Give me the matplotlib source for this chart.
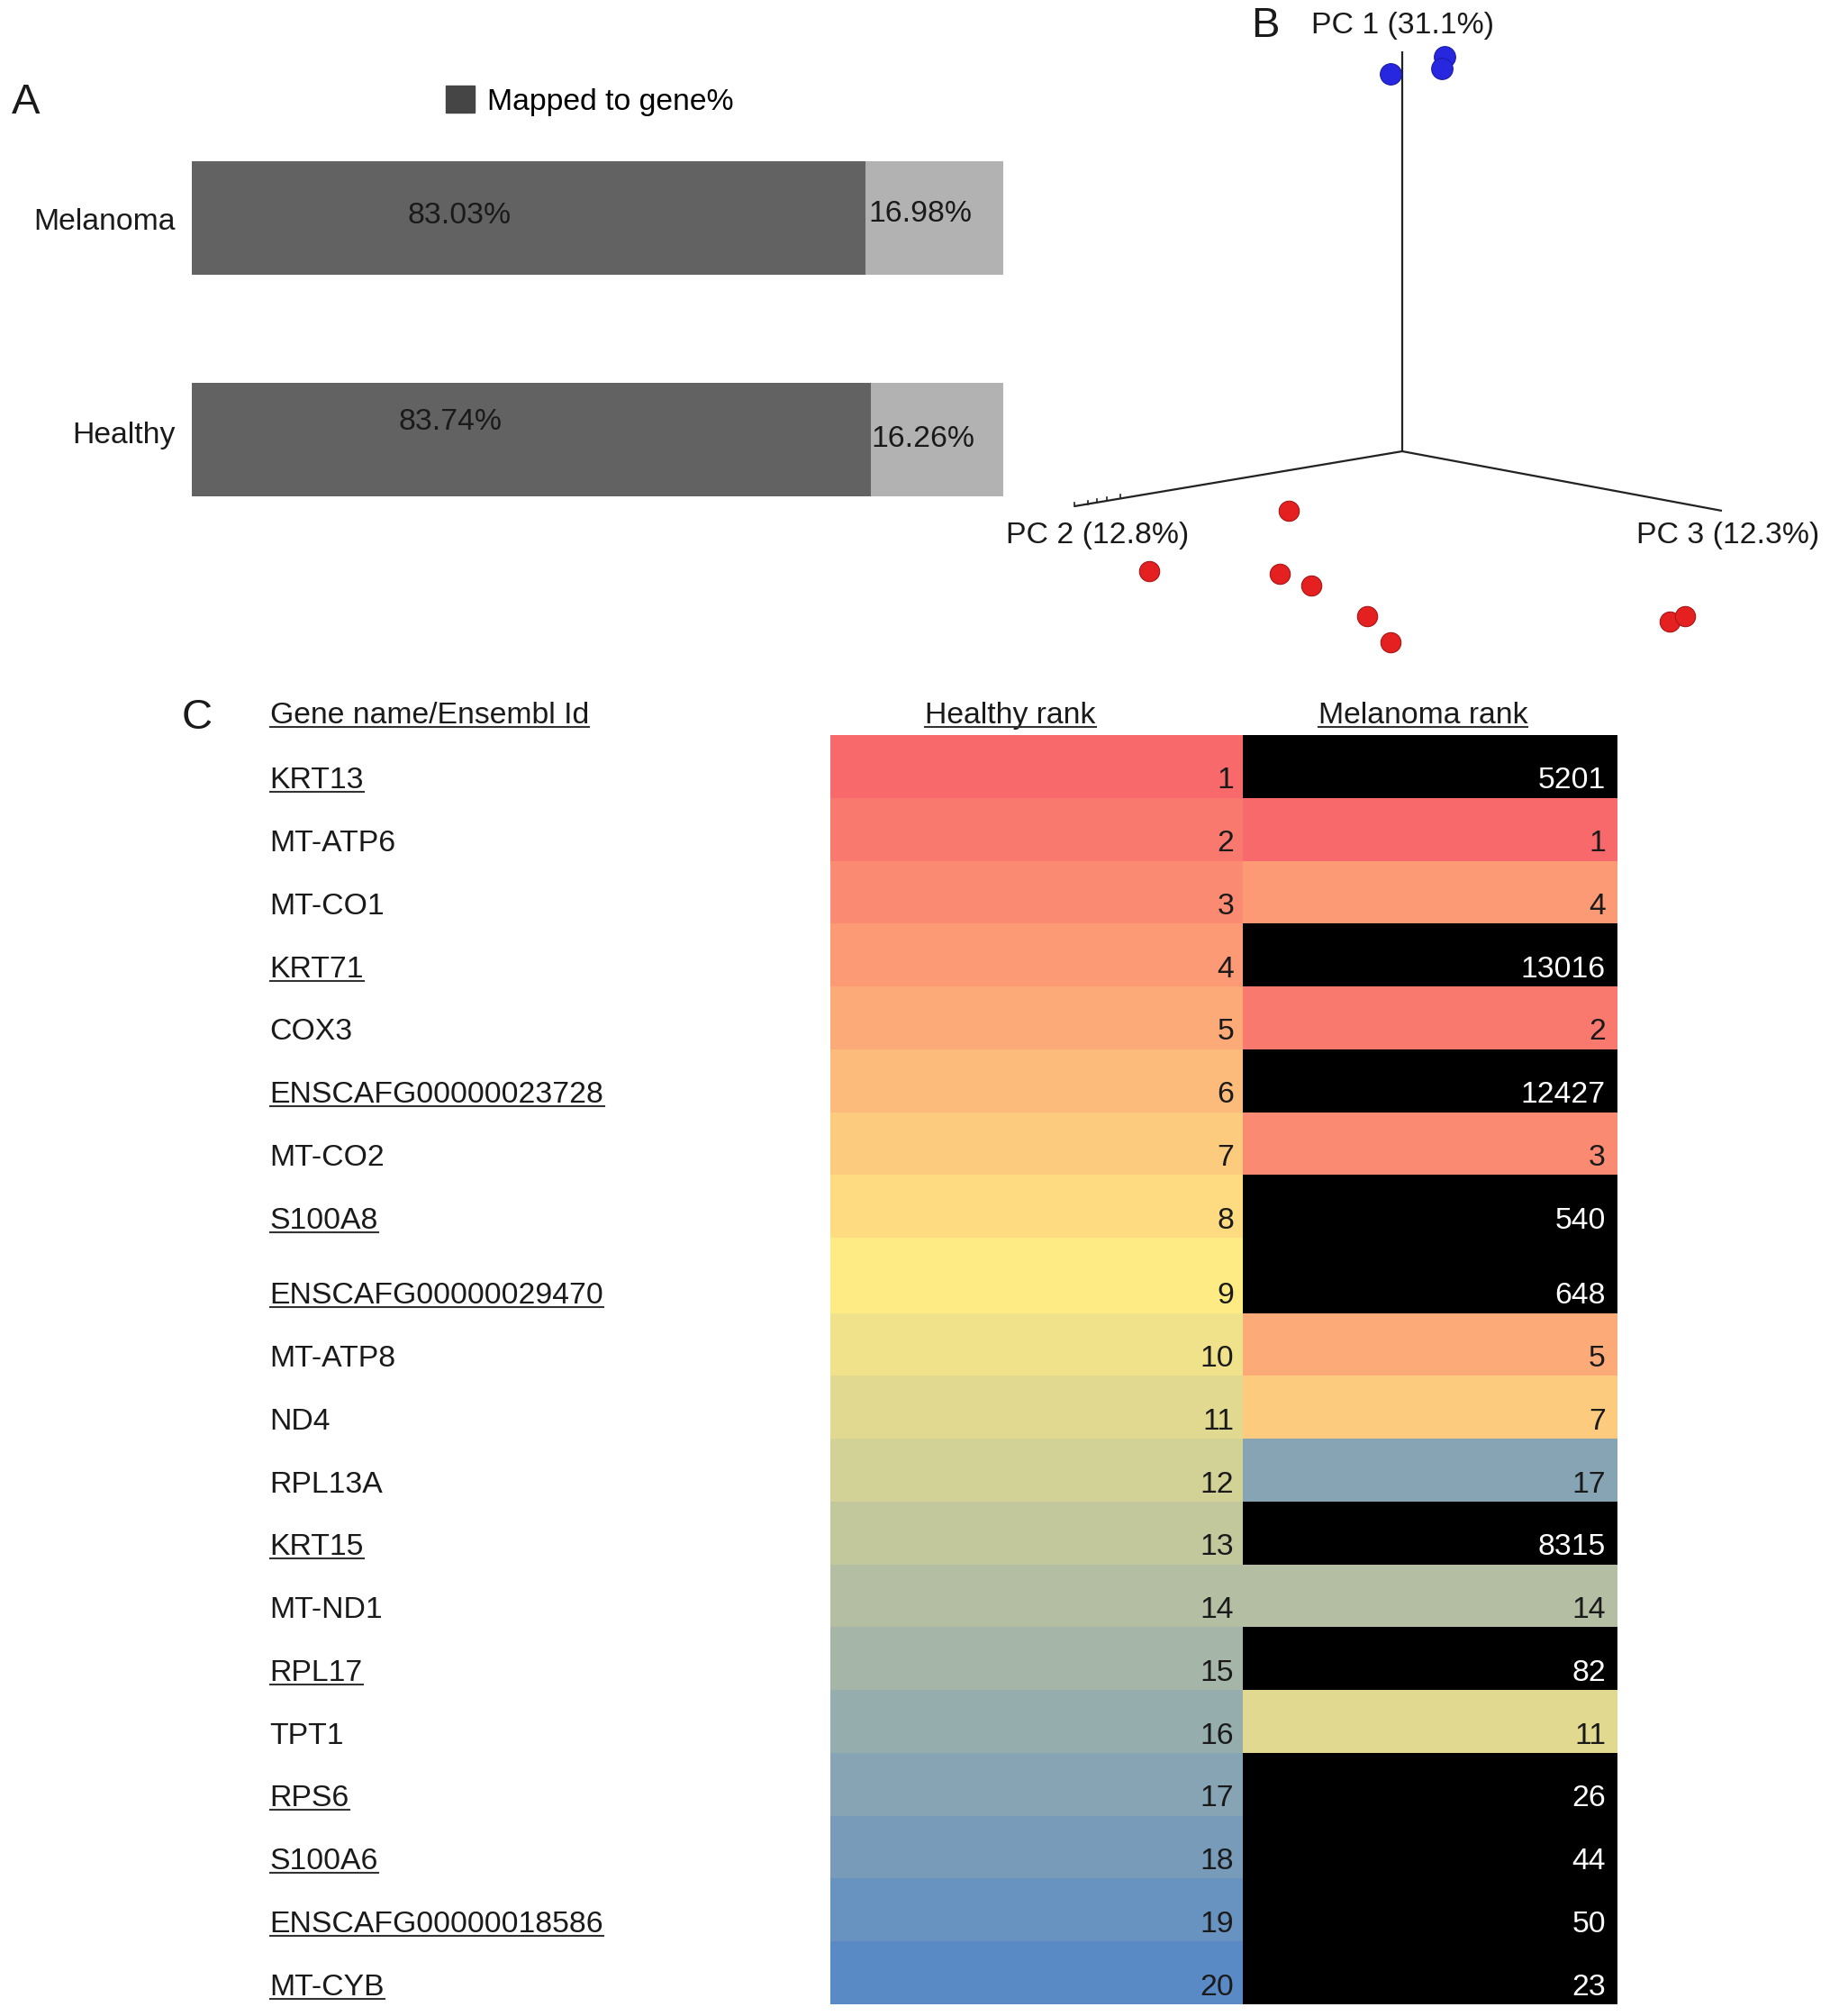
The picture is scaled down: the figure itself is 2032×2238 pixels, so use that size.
import matplotlib
matplotlib.use('Agg')
import matplotlib.pyplot as plt
import numpy as np
from matplotlib.colors import LinearSegmentedColormap, TwoSlopeNorm
from matplotlib.lines import Line2D
from matplotlib.patches import Patch
from matplotlib.transforms import IdentityTransform

plt.rcParams['font.family'] = ['Liberation Sans', 'DejaVu Sans']

# Panel A: mapping rates
samples = ['Melanoma', 'Healthy']
mapped_pct = [83.03, 83.74]
unmapped_pct = [16.98, 16.26]

axis_names = ['PC 1 (31.1%)', 'PC 2 (12.8%)', 'PC 3 (12.3%)']
axis_ends_x = [0.0, -3.64, 3.55]
axis_ends_y = [4.44, -0.61, -0.66]
healthy_x = [-0.13, 0.47, 0.44]
healthy_y = [4.19, 4.38, 4.25]
melanoma_x = [-1.26, -2.81, -1.36, -1.01, -0.39, -0.13, 2.97, 3.14]
melanoma_y = [-0.66, -1.33, -1.36, -1.49, -1.83, -2.12, -1.89, -1.83]

# Panel C: top 20 genes in healthy skin
genes = ['KRT13', 'MT-ATP6', 'MT-CO1', 'KRT71', 'COX3',
         'ENSCAFG00000023728', 'MT-CO2', 'S100A8', 'ENSCAFG00000029470',
         'MT-ATP8', 'ND4', 'RPL13A', 'KRT15', 'MT-ND1', 'RPL17', 'TPT1',
         'RPS6', 'S100A6', 'ENSCAFG00000018586', 'MT-CYB']
healthy_rank = list(range(1, 21))
melanoma_rank = [5201, 1, 4, 13016, 2, 12427, 3, 540, 648, 5, 7, 17,
                 8315, 14, 82, 11, 26, 44, 50, 23]
col_headers = ['Gene name/Ensembl Id', 'Healthy rank', 'Melanoma rank']

W, H = 2032, 2238
FS = 24.3
TXT = '#1a1a1a'


def fig_box(x0, y0, x1, y1):
    """pixel box (top-left origin) -> figure fraction rect"""
    return [x0 / W, 1 - y1 / H, (x1 - x0) / W, (y1 - y0) / H]


def plot_mapping(fig):
    ax = fig.add_axes(fig_box(213, 150, 1114, 580))
    ypos = np.arange(len(samples))
    ax.barh(ypos, mapped_pct, height=0.512, color='#626262')
    ax.barh(ypos, unmapped_pct, left=mapped_pct, height=0.512,
            color='#b2b2b2')
    # source labels drift a little off the bar centres
    label_shift = [0.02, -0.02]
    for i in range(len(samples)):
        ax.text(-2.0, ypos[i] + label_shift[i], samples[i], ha='right',
                va='center', fontsize=FS, color=TXT)
        ax.text(33.0 - 1.2 * i, ypos[i] - 0.01 - 0.07 * i,
                f'{mapped_pct[i]:.2f}%', ha='center', va='center',
                fontsize=FS, color=TXT)
        ax.text(mapped_pct[i] + unmapped_pct[i] / 2 - 1.8,
                ypos[i] - 0.02 + 0.02 * i,
                f'{unmapped_pct[i]:.2f}%', ha='center', va='center',
                fontsize=FS, color=TXT)
    ax.set_xlim(0, 100)
    ax.set_ylim(1.374, -0.374)
    ax.set_xticks([])
    ax.set_yticks([])
    for s in ax.spines.values():
        s.set_visible(False)
    fig.legend(handles=[Patch(facecolor='#454545', edgecolor='#454545')],
               labels=['Mapped to gene%'], loc='center left',
               bbox_to_anchor=(495 / W, 1 - 112 / H), frameon=False,
               fontsize=FS, handlelength=0.95, handleheight=0.95,
               handletextpad=0.4, borderpad=0, borderaxespad=0)


def plot_pca(fig):
    ax = fig.add_axes(fig_box(1094, 0, 2026, 740))
    for ex, ey in zip(axis_ends_x, axis_ends_y):
        ax.plot([0, ex], [0, ey], color='#222222', lw=1.6,
                solid_capstyle='butt')
    # small graduation marks near the end of the PC 2 axis
    for f in [0.86, 0.9, 0.93, 0.96, 1.0]:
        px, py = axis_ends_x[1] * f, axis_ends_y[1] * f
        ax.plot([px, px], [py, py + 0.04], color='#222222', lw=1.2)
    ax.scatter(healthy_x, healthy_y, s=290, color='#2727e0',
               edgecolors='#1a1aa8', linewidths=0.8, zorder=3)
    ax.scatter(melanoma_x, melanoma_y, s=260, color='#e52020',
               edgecolors='#a81515', linewidths=0.8, zorder=3)
    ax.text(0.01, 4.72, axis_names[0], ha='center', va='center',
            fontsize=FS, color=TXT)
    ax.text(-3.38, -0.94, axis_names[1], ha='center', va='center',
            fontsize=FS, color=TXT)
    ax.text(3.62, -0.94, axis_names[2], ha='center', va='center',
            fontsize=FS, color=TXT)
    ax.set_xlim(-4.63, 4.69)
    ax.set_ylim(-2.39, 5.01)
    ax.axis('off')


def plot_table(fig):
    ax = fig.add_axes(fig_box(922, 816, 1796, 2225))
    split = 0.524
    heights = np.ones(len(genes))
    heights[8] = 1.2
    tops = np.concatenate([[0], np.cumsum(heights)[:-1]])
    cmap = LinearSegmentedColormap.from_list(
        'ryb', ['#F8696B', '#FFEB84', '#5A8AC6'])
    norm = TwoSlopeNorm(vmin=1, vcenter=9, vmax=20)

    underlined = []
    for i, g in enumerate(genes):
        top, h = tops[i], heights[i]
        hc = cmap(norm(healthy_rank[i]))
        mr = melanoma_rank[i]
        mc = cmap(norm(mr)) if mr <= 20 else 'black'
        ax.bar(split / 2, h, width=split, bottom=top, color=hc)
        ax.bar((1 + split) / 2, h, width=1 - split, bottom=top, color=mc)
        base = top + h - 0.15
        ax.text(split - 0.011, base, str(healthy_rank[i]), ha='right',
                va='baseline', fontsize=FS, color=TXT)
        ax.text(0.985, base, str(mr), ha='right', va='baseline',
                fontsize=FS, color='white' if mr > 20 else TXT)
        t = ax.text(-0.712, base, g, ha='left', va='baseline',
                    fontsize=FS, color=TXT, clip_on=False)
        # genes absent from the melanoma top 20 are underlined
        if mr > 20:
            underlined.append(t)

    hx = [-0.712, 0.229, 0.753]
    ha = ['left', 'center', 'center']
    for x, a, lab in zip(hx, ha, col_headers):
        underlined.append(ax.text(x, -0.19, lab, ha=a, va='baseline',
                                  fontsize=FS, color=TXT, clip_on=False))
    ax.set_xlim(0, 1)
    ax.set_ylim(heights.sum(), 0)
    ax.axis('off')
    return underlined


def underline(fig, texts):
    fig.canvas.draw()
    r = fig.canvas.get_renderer()
    for t in texts:
        bb = t.get_window_extent(r)
        fig.add_artist(Line2D([bb.x0, bb.x1], [bb.y0 + 3, bb.y0 + 3],
                              transform=IdentityTransform(),
                              color='#333333', lw=1.5))


def main():
    fig = plt.figure(figsize=(W / 100, H / 100), dpi=100)
    plot_mapping(fig)
    plot_pca(fig)
    texts = plot_table(fig)
    for lab, x, y in [('A', 29, 114), ('B', 1405, 29), ('C', 219, 797)]:
        fig.text(x / W, 1 - y / H, lab, ha='center', va='center',
                 fontsize=34, color=TXT)
    underline(fig, texts)
    fig.savefig('out.png', dpi=100)


if __name__ == "__main__":
    main()
